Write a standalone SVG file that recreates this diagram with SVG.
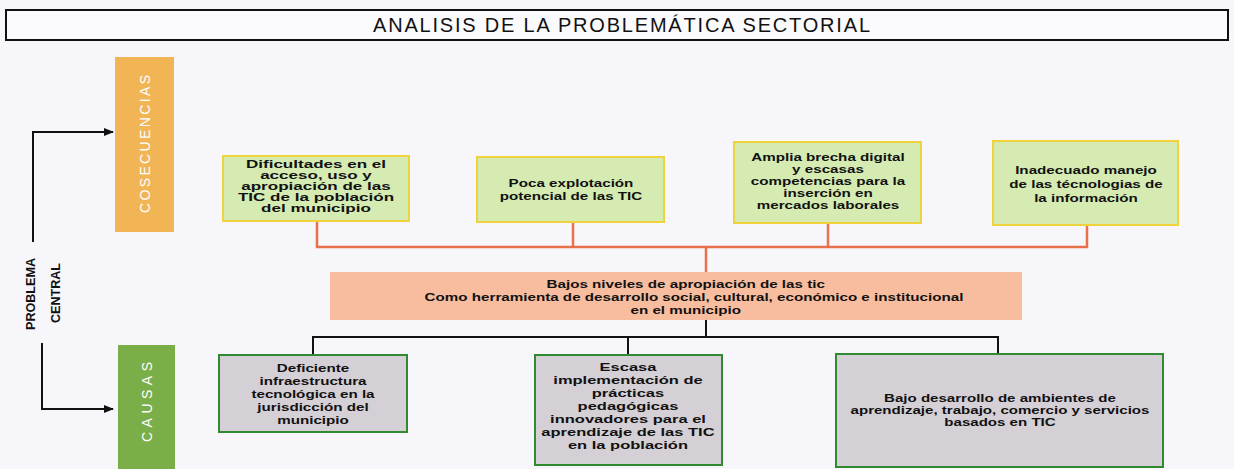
<svg xmlns="http://www.w3.org/2000/svg" width="1234" height="469" viewBox="0 0 1234 469">
<defs>
<marker id="arr" markerWidth="10" markerHeight="8" refX="9" refY="4" orient="auto" markerUnits="userSpaceOnUse">
<path d="M0,0 L10,4 L0,8 z" fill="#111"/>
</marker>
<style>
.t{font-family:"Liberation Sans",Arial,sans-serif;font-weight:bold;font-size:11px;fill:#111;text-anchor:middle}
.cons{fill:#d6ebb2;stroke:#efd23c;stroke-width:2}
.cause{fill:#d5d0d6;stroke:#2f8a30;stroke-width:2}
.oc{fill:none;stroke:#e8704a;stroke-width:2.5}
.bc{fill:none;stroke:#111;stroke-width:2}
.side{font-family:"Liberation Sans",Arial,sans-serif;font-size:14px;fill:#fff;text-anchor:middle}
.pc{font-family:"Liberation Sans",Arial,sans-serif;font-weight:bold;font-size:13px;fill:#111;text-anchor:middle}
</style>
</defs>
<rect width="1234" height="469" fill="#f7f7fb"/>
<g id="title">
<rect x="6" y="10" width="1222" height="30" fill="#fbfbfd" stroke="#111" stroke-width="2"/>
<text x="621.5" y="32" font-family="Liberation Sans, Arial, sans-serif" font-size="20" text-anchor="middle" fill="#111" textLength="497" lengthAdjust="spacing">ANALISIS DE LA PROBLEMÁTICA SECTORIAL</text>
</g>
<g id="connectors">
<polyline class="bc" points="33,242 33,132 113,132" marker-end="url(#arr)" stroke-width="1.5"/>
<polyline class="bc" points="42,343 42,409 113,409" marker-end="url(#arr)" stroke-width="1.5"/>
<polyline class="oc" points="317,221 317,247 1087,247 1087,225"/>
<line class="oc" x1="573" y1="222" x2="573" y2="247"/>
<line class="oc" x1="828" y1="223" x2="828" y2="247"/>
<line class="oc" x1="706" y1="247" x2="706" y2="272"/>
<line class="bc" x1="706" y1="320" x2="706" y2="337" stroke-width="3"/>
<polyline class="bc" points="313,355 313,337 998,337 998,354"/>
<line class="bc" x1="628" y1="337" x2="628" y2="355" stroke-width="1.5"/>
</g>
<g id="cosecuencias">
<rect x="115" y="57" width="59" height="175" fill="#f2b555"/>
<text class="side" transform="translate(150,144) rotate(-90)" textLength="138" lengthAdjust="spacing">COSECUENCIAS</text>
</g>
<g id="causas">
<rect x="118" y="345" width="57" height="124" fill="#7aae48"/>
<text class="side" transform="translate(152,402) rotate(-90)" textLength="80" lengthAdjust="spacing">CAUSAS</text>
</g>
<g id="problema">
<text class="pc" transform="translate(35,294) rotate(-90)" textLength="72" lengthAdjust="spacingAndGlyphs">PROBLEMA</text>
<text class="pc" transform="translate(60,293) rotate(-90)" textLength="60" lengthAdjust="spacingAndGlyphs">CENTRAL</text>
</g>
<g id="cons1">
<rect class="cons" x="223" y="156" width="186" height="65"/>
<text class="t" font-size="9.5" transform="translate(316,0) scale(1.55,1) translate(-316,0)"><tspan x="316" y="168">Dificultades en el</tspan><tspan x="316" y="179">acceso, uso y</tspan><tspan x="316" y="190">apropiación de las</tspan><tspan x="316" y="201">TIC de la población</tspan><tspan x="316" y="212">del municipio</tspan></text>
</g>
<g id="cons2">
<rect class="cons" x="477" y="157" width="187" height="65"/>
<text class="t" transform="translate(571,0) scale(1.38,1) translate(-571,0)"><tspan x="571" y="187">Poca explotación</tspan><tspan x="571" y="200">potencial de las TIC</tspan></text>
</g>
<g id="cons3">
<rect class="cons" x="734" y="142" width="187" height="81"/>
<text class="t" transform="translate(828,0) scale(1.38,1) translate(-828,0)"><tspan x="828" y="161">Amplia brecha digital</tspan><tspan x="828" y="173">y escasas</tspan><tspan x="828" y="185">competencias para la</tspan><tspan x="828" y="197">inserción en</tspan><tspan x="828" y="209">mercados laborales</tspan></text>
</g>
<g id="cons4">
<rect class="cons" x="993" y="141" width="185" height="84"/>
<text class="t" transform="translate(1086,0) scale(1.38,1) translate(-1086,0)"><tspan x="1086" y="174">Inadecuado manejo</tspan><tspan x="1086" y="188">de las técnologias de</tspan><tspan x="1086" y="202">la información</tspan></text>
</g>
<g id="central">
<rect x="330" y="272" width="692" height="48" fill="#f8bd9f"/>
<text class="t" transform="translate(694,0) scale(1.38,1) translate(-694,0)"><tspan x="688" y="288">Bajos niveles de apropiación de las tic</tspan><tspan x="694" y="301">Como herramienta de desarrollo social,  cultural, económico e institucional</tspan><tspan x="688" y="314">en el municipio</tspan></text>
</g>
<g id="cause1">
<rect class="cause" x="219" y="355" width="188" height="77"/>
<text class="t" transform="translate(313,0) scale(1.38,1) translate(-313,0)"><tspan x="313" y="372">Deficiente</tspan><tspan x="313" y="385">infraestructura</tspan><tspan x="313" y="398">tecnológica en la</tspan><tspan x="313" y="411">jurisdicción del</tspan><tspan x="313" y="424">municipio</tspan></text>
</g>
<g id="cause2">
<rect class="cause" x="535" y="355" width="187" height="110"/>
<text class="t" transform="translate(628,0) scale(1.5,1) translate(-628,0)"><tspan x="628" y="371">Escasa</tspan><tspan x="628" y="384">implementación de</tspan><tspan x="628" y="397">prácticas</tspan><tspan x="628" y="410">pedagógicas</tspan><tspan x="628" y="423">innovadores para el</tspan><tspan x="628" y="436">aprendizaje de las TIC</tspan><tspan x="628" y="449">en la población</tspan></text>
</g>
<g id="cause3">
<rect class="cause" x="836" y="354" width="327" height="113"/>
<text class="t" transform="translate(1000,0) scale(1.37,1) translate(-1000,0)"><tspan x="1000" y="402">Bajo desarrollo de ambientes de</tspan><tspan x="1000" y="414">aprendizaje, trabajo, comercio y servicios</tspan><tspan x="1000" y="426">basados en TIC</tspan></text>
</g>
</svg>
